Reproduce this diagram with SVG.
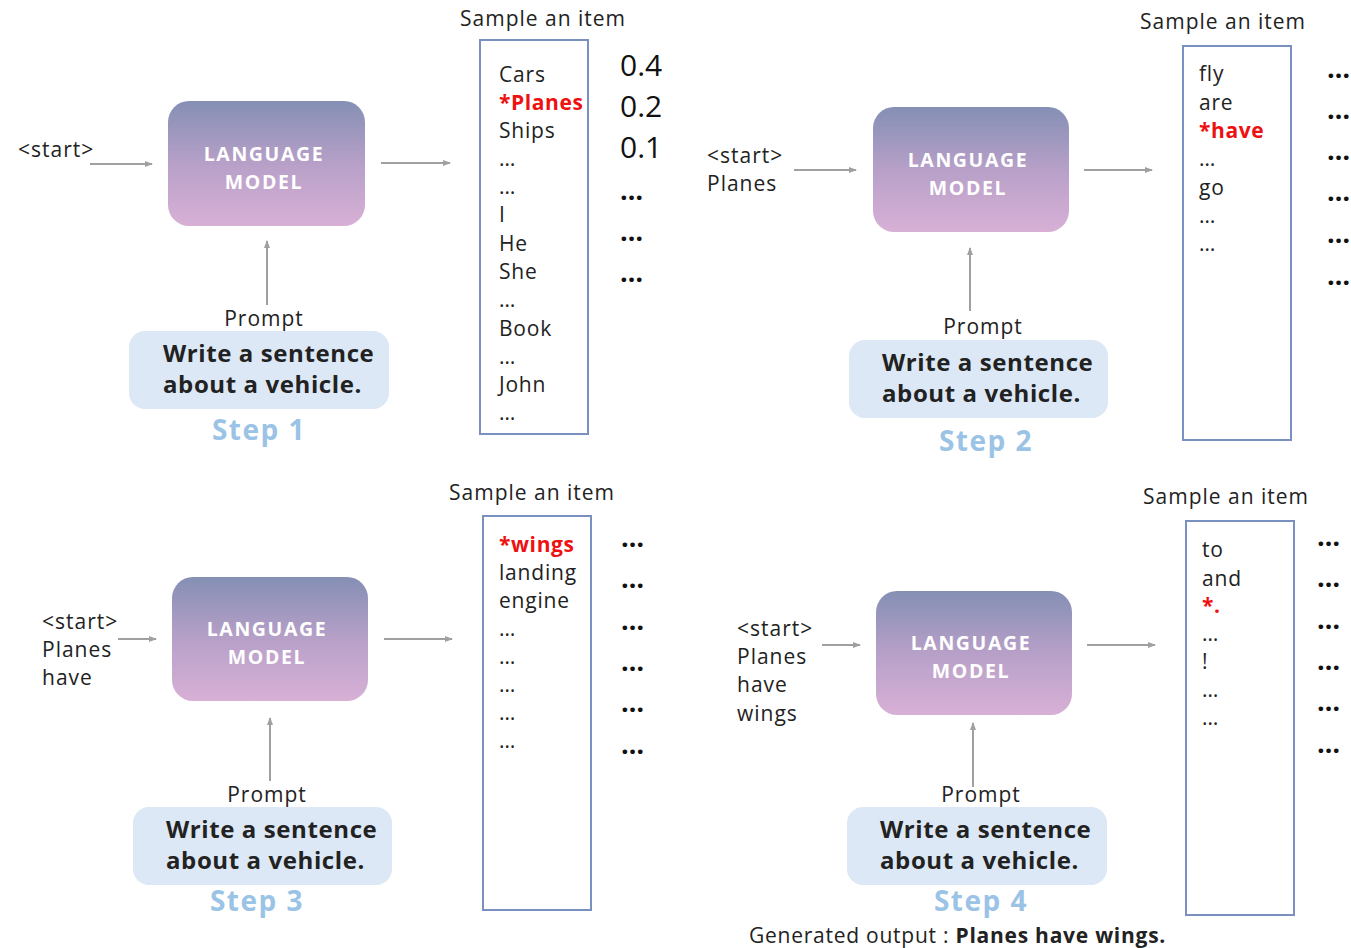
<svg xmlns="http://www.w3.org/2000/svg" width="1351" height="948" viewBox="0 0 1351 948">
<defs>
<linearGradient id="lmGrad" x1="0" y1="0" x2="0" y2="1">
<stop offset="0" stop-color="#858fb4"/>
<stop offset="0.5" stop-color="#b7a0c8"/>
<stop offset="1" stop-color="#d8b0d6"/>
</linearGradient>
<marker id="ah" markerWidth="8" markerHeight="8" refX="7" refY="4" orient="auto" markerUnits="userSpaceOnUse">
<path d="M0,1 L8,4 L0,7 Z" fill="#a0a0a0"/>
</marker>
<style>
text{font-family:"Open Sans","Noto Sans","DejaVu Sans",sans-serif;fill:#222}
.lbl{font-size:21px;letter-spacing:1px}
.item{font-size:21px;letter-spacing:0.8px}
.red{font-size:21px;font-weight:bold;fill:#ee1111;letter-spacing:0.6px}
.prob{font-size:30px;fill:#111}
.dots{font-size:27px;fill:#111;font-weight:bold}
.lm{fill:url(#lmGrad)}
.lmt{font-size:19.5px;font-weight:bold;fill:#fff;text-anchor:middle;letter-spacing:1.6px}
.pbox{fill:#dce8f5}
.pt{font-size:24px;font-weight:bold;fill:#222;letter-spacing:0.6px}
.step{font-size:28px;font-weight:bold;fill:#9ac3e6;text-anchor:middle;letter-spacing:1.5px}
.list{fill:#fff;stroke:#7a90c0;stroke-width:2}
.conn line{stroke:#a0a0a0;stroke-width:2;marker-end:url(#ah)}
</style>
</defs>
<rect width="1351" height="948" fill="#fff"/>

<g id="connectors" class="conn">
<line x1="90" y1="164" x2="152" y2="164"/>
<line x1="381" y1="163" x2="450" y2="163"/>
<line x1="267" y1="305" x2="267" y2="241"/>
<line x1="794" y1="170" x2="856" y2="170"/>
<line x1="1084" y1="170" x2="1152" y2="170"/>
<line x1="970" y1="311" x2="970" y2="248"/>
<line x1="118" y1="639" x2="156" y2="639"/>
<line x1="384" y1="639" x2="452" y2="639"/>
<line x1="270" y1="781" x2="270" y2="718"/>
<line x1="822" y1="645" x2="860" y2="645"/>
<line x1="1087" y1="645" x2="1155" y2="645"/>
<line x1="973" y1="787" x2="973" y2="723"/>
</g>

<!-- Step 1 -->
<g id="step1-input"><text class="lbl" x="18" y="157">&lt;start&gt;</text></g>
<g id="step1-lm">
<rect class="lm" x="168" y="101" width="197" height="125" rx="21"/>
<text class="lmt" x="264" y="161">LANGUAGE</text>
<text class="lmt" x="264" y="189">MODEL</text>
</g>
<g id="step1-prompt">
<text class="lbl" x="264" y="326" text-anchor="middle">Prompt</text>
<rect class="pbox" x="129" y="331" width="260" height="78" rx="16"/>
<text class="pt" x="163" y="362">Write a sentence</text>
<text class="pt" x="163" y="393">about a vehicle.</text>
<text class="step" x="259" y="440">Step 1</text>
</g>
<g id="step1-list">
<text class="lbl" x="460" y="26">Sample an item</text>
<rect class="list" x="480" y="40" width="108" height="394"/>
<text class="item" x="499" y="82">Cars</text>
<text class="red" x="499" y="110">*Planes</text>
<text class="item" x="499" y="138">Ships</text>
<text class="item" x="499" y="166">…</text>
<text class="item" x="499" y="194">…</text>
<text class="item" x="499" y="222">I</text>
<text class="item" x="499" y="251">He</text>
<text class="item" x="499" y="279">She</text>
<text class="item" x="499" y="307">…</text>
<text class="item" x="499" y="336">Book</text>
<text class="item" x="499" y="364">…</text>
<text class="item" x="499" y="392">John</text>
<text class="item" x="499" y="420">…</text>
</g>
<g id="step1-probs">
<text class="prob" x="620" y="76">0.4</text>
<text class="prob" x="620" y="117">0.2</text>
<text class="prob" x="620" y="158">0.1</text>
<text class="dots" x="620" y="200">…</text>
<text class="dots" x="620" y="241">…</text>
<text class="dots" x="620" y="282">…</text>
</g>

<!-- Step 2 -->
<g id="step2-input">
<text class="lbl" x="707" y="163">&lt;start&gt;</text>
<text class="lbl" x="707" y="191">Planes</text>
</g>
<g id="step2-lm">
<rect class="lm" x="873" y="107" width="196" height="125" rx="21"/>
<text class="lmt" x="968" y="167">LANGUAGE</text>
<text class="lmt" x="968" y="195">MODEL</text>
</g>
<g id="step2-prompt">
<text class="lbl" x="983" y="334" text-anchor="middle">Prompt</text>
<rect class="pbox" x="849" y="340" width="259" height="78" rx="16"/>
<text class="pt" x="882" y="371">Write a sentence</text>
<text class="pt" x="882" y="402">about a vehicle.</text>
<text class="step" x="986" y="451">Step 2</text>
</g>
<g id="step2-list">
<text class="lbl" x="1140" y="29">Sample an item</text>
<rect class="list" x="1183" y="46" width="108" height="394"/>
<text class="item" x="1199" y="81">fly</text>
<text class="item" x="1199" y="110">are</text>
<text class="red" x="1199" y="138">*have</text>
<text class="item" x="1199" y="166">…</text>
<text class="item" x="1199" y="195">go</text>
<text class="item" x="1199" y="223">…</text>
<text class="item" x="1199" y="251">…</text>
</g>
<g id="step2-probs">
<text class="dots" x="1327" y="78">…</text>
<text class="dots" x="1327" y="119">…</text>
<text class="dots" x="1327" y="160">…</text>
<text class="dots" x="1327" y="201">…</text>
<text class="dots" x="1327" y="243">…</text>
<text class="dots" x="1327" y="285">…</text>
</g>

<!-- Step 3 -->
<g id="step3-input">
<text class="lbl" x="42" y="629">&lt;start&gt;</text>
<text class="lbl" x="42" y="657">Planes</text>
<text class="lbl" x="42" y="685">have</text>
</g>
<g id="step3-lm">
<rect class="lm" x="172" y="577" width="196" height="124" rx="21"/>
<text class="lmt" x="267" y="636">LANGUAGE</text>
<text class="lmt" x="267" y="664">MODEL</text>
</g>
<g id="step3-prompt">
<text class="lbl" x="267" y="802" text-anchor="middle">Prompt</text>
<rect class="pbox" x="133" y="807" width="259" height="78" rx="16"/>
<text class="pt" x="166" y="838">Write a sentence</text>
<text class="pt" x="166" y="869">about a vehicle.</text>
<text class="step" x="257" y="911">Step 3</text>
</g>
<g id="step3-list">
<text class="lbl" x="449" y="500">Sample an item</text>
<rect class="list" x="483" y="516" width="108" height="394"/>
<text class="red" x="499" y="552">*wings</text>
<text class="item" x="499" y="580">landing</text>
<text class="item" x="499" y="608">engine</text>
<text class="item" x="499" y="636">…</text>
<text class="item" x="499" y="664">…</text>
<text class="item" x="499" y="692">…</text>
<text class="item" x="499" y="720">…</text>
<text class="item" x="499" y="748">…</text>
</g>
<g id="step3-probs">
<text class="dots" x="621" y="547">…</text>
<text class="dots" x="621" y="588">…</text>
<text class="dots" x="621" y="630">…</text>
<text class="dots" x="621" y="671">…</text>
<text class="dots" x="621" y="712">…</text>
<text class="dots" x="621" y="754">…</text>
</g>

<!-- Step 4 -->
<g id="step4-input">
<text class="lbl" x="737" y="636">&lt;start&gt;</text>
<text class="lbl" x="737" y="664">Planes</text>
<text class="lbl" x="737" y="692">have</text>
<text class="lbl" x="737" y="721">wings</text>
</g>
<g id="step4-lm">
<rect class="lm" x="876" y="591" width="196" height="124" rx="21"/>
<text class="lmt" x="971" y="650">LANGUAGE</text>
<text class="lmt" x="971" y="678">MODEL</text>
</g>
<g id="step4-prompt">
<text class="lbl" x="981" y="802" text-anchor="middle">Prompt</text>
<rect class="pbox" x="847" y="807" width="260" height="78" rx="16"/>
<text class="pt" x="880" y="838">Write a sentence</text>
<text class="pt" x="880" y="869">about a vehicle.</text>
<text class="step" x="981" y="911">Step 4</text>
</g>
<g id="step4-list">
<text class="lbl" x="1143" y="504">Sample an item</text>
<rect class="list" x="1186" y="521" width="108" height="394"/>
<text class="item" x="1202" y="557">to</text>
<text class="item" x="1202" y="586">and</text>
<text class="red" x="1202" y="613">*.</text>
<text class="item" x="1202" y="641">…</text>
<text class="item" x="1202" y="669">!</text>
<text class="item" x="1202" y="697">…</text>
<text class="item" x="1202" y="725">…</text>
</g>
<g id="step4-probs">
<text class="dots" x="1317" y="546">…</text>
<text class="dots" x="1317" y="587">…</text>
<text class="dots" x="1317" y="629">…</text>
<text class="dots" x="1317" y="670">…</text>
<text class="dots" x="1317" y="711">…</text>
<text class="dots" x="1317" y="753">…</text>
</g>
<g id="output">
<text class="lbl" x="749" y="943" style="letter-spacing:0.75px">Generated output : <tspan font-weight="bold">Planes have wings.</tspan></text>
</g>
</svg>
